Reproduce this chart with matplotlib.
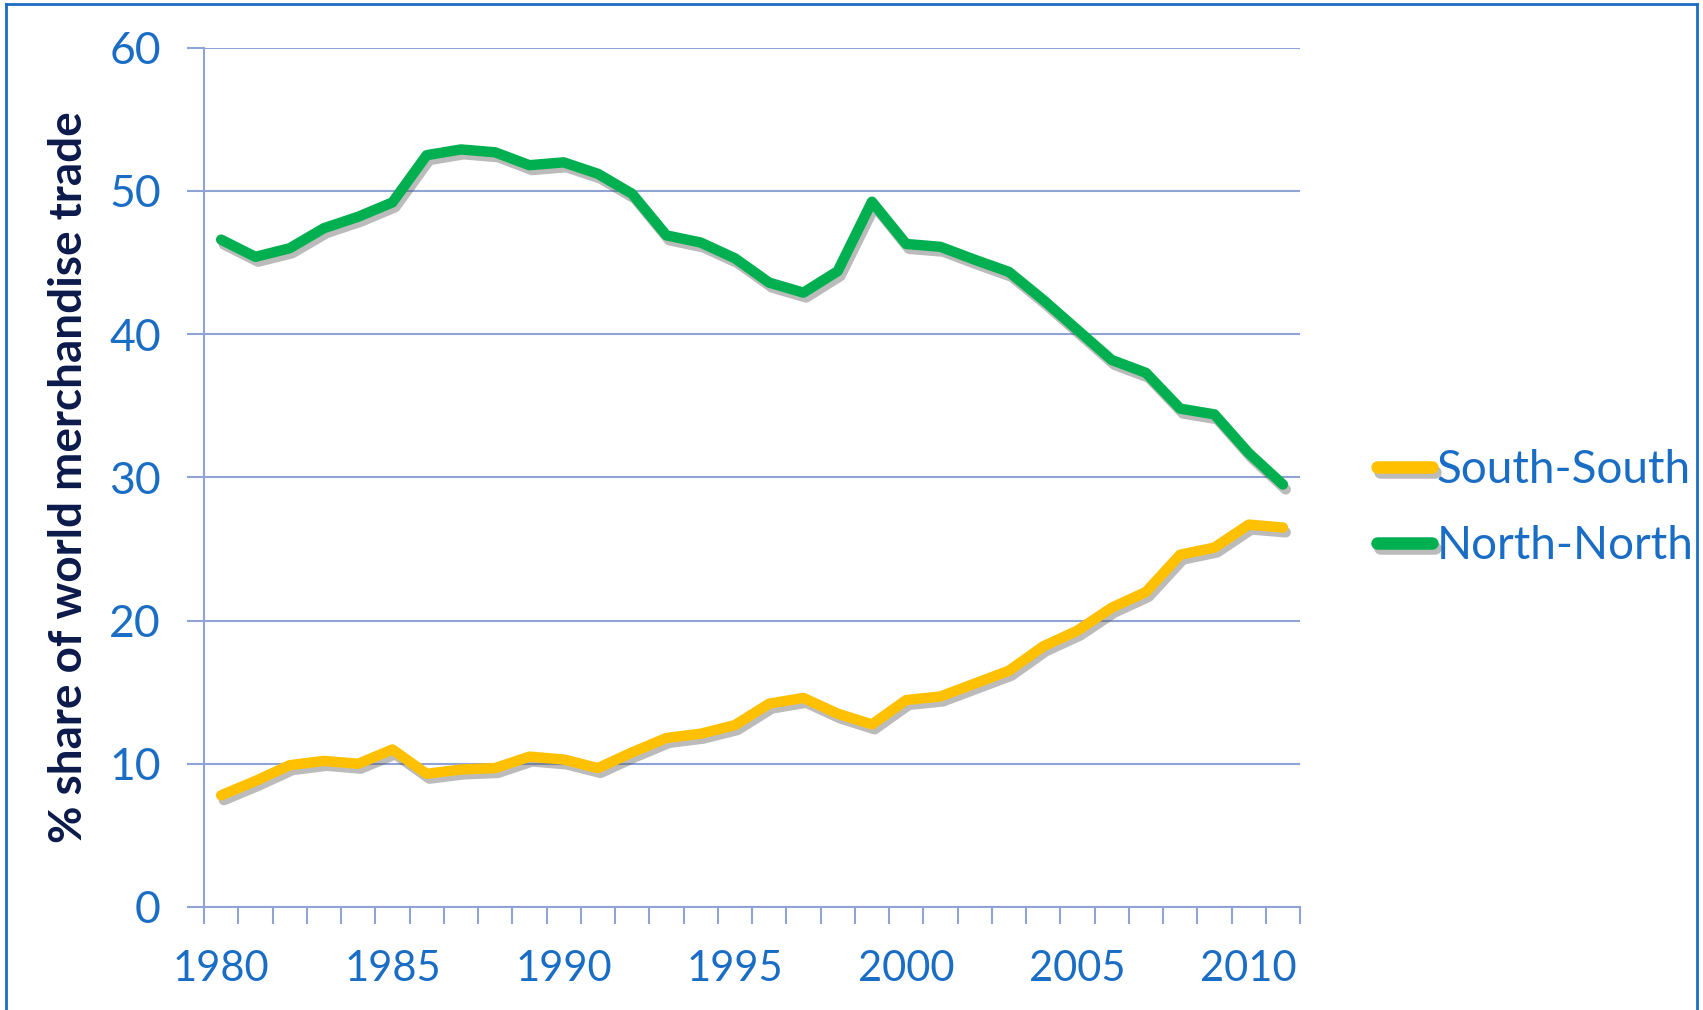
import numpy as np
import matplotlib
matplotlib.use("Agg")
from matplotlib import pyplot as plt
from matplotlib import patheffects as pe
from matplotlib.lines import Line2D

years = list(range(1980, 2012))
south_south = [7.8, 8.8, 9.9, 10.2, 10.0, 11.0, 9.3, 9.6, 9.7, 10.5,
               10.3, 9.7, 10.8, 11.8, 12.1, 12.7, 14.2, 14.6, 13.5, 12.75,
               14.45, 14.7, 15.6, 16.5, 18.2, 19.3, 20.9, 22.0, 24.6, 25.1,
               26.7, 26.5]
north_north = [46.6, 45.4, 46.0, 47.4, 48.2, 49.2, 52.5, 52.9, 52.7, 51.8,
               52.0, 51.2, 49.8, 46.9, 46.4, 45.3, 43.6, 42.9, 44.4, 49.25,
               46.3, 46.1, 45.2, 44.35, 42.4, 40.3, 38.2, 37.3, 34.8, 34.4,
               31.7, 29.5]
series_names = ["South-South", "North-North"]
series_colors = ["#FFC000", "#00B050"]
xtick_years = [1980, 1985, 1990, 1995, 2000, 2005, 2010]
yticks = [0, 10, 20, 30, 40, 50, 60]

blue = "#1A6DC4"
grid_col = "#8FA3D6"
navy = "#0C1A4B"
plt.rcParams['font.family'] = ['Lato', 'DejaVu Sans']

fig = plt.figure(figsize=(17.03, 10.10), dpi=100)
ax = fig.add_axes([0.1198, 0.102, 0.6436, 0.8507])

x = np.arange(len(years))
shadow = [pe.SimpleLineShadow(offset=(2, -3.5), shadow_color='#555555', alpha=0.4), pe.Normal()]
for vals, name, col in zip([south_south, north_north], series_names, series_colors):
    ax.plot(x, vals, color=col, lw=7.5, label=name, solid_capstyle='round',
            solid_joinstyle='round', path_effects=shadow, zorder=3)

ax.set_xlim(-0.5, len(years) - 0.5)
ax.set_ylim(0, 60)
ax.set_yticks(yticks)
ax.set_yticklabels([str(v) for v in yticks])
ax.yaxis.grid(True, color=grid_col, lw=1.5)
ax.set_axisbelow(True)
ax.tick_params(axis='y', length=12, width=1.5, color=grid_col, labelcolor=blue,
               labelsize=32, pad=19)

ax.set_xticks([years.index(y) for y in xtick_years])
ax.set_xticklabels([str(y) for y in xtick_years])
ax.set_xticks(np.arange(-0.5, len(years)), minor=True)
ax.tick_params(axis='x', which='major', length=0, labelcolor=blue, labelsize=30, pad=31)
ax.tick_params(axis='x', which='minor', length=12, width=1.5, color=grid_col)

for s in ['top', 'right']:
    ax.spines[s].set_visible(False)
for s in ['left', 'bottom']:
    ax.spines[s].set_color(grid_col)
    ax.spines[s].set_linewidth(1.5)

ax.set_ylabel("% share of world merchandise trade", fontsize=33, fontweight='bold',
              color=navy, labelpad=14)

leg = ax.legend(loc='center left', bbox_to_anchor=(0.8086, 0.497),
                bbox_transform=fig.transFigure, frameon=False, fontsize=33,
                handlelength=1.2, handletextpad=0.1, borderpad=0, borderaxespad=0,
                labelspacing=0.75)
for t in leg.get_texts():
    t.set_color(blue)
for h in leg.get_lines():
    h.set_linewidth(9)
    h.set_solid_capstyle('round')

# blue frame around the picture
for xs, ys in [([0.0035, 0.0035], [0, 0.996]), ([0.0035, 0.9965], [0.996, 0.996]),
               ([0.9965, 0.9965], [0, 0.996])]:
    fig.add_artist(Line2D(xs, ys, color=blue, lw=2, transform=fig.transFigure))

fig.savefig("out.png", dpi=100)
